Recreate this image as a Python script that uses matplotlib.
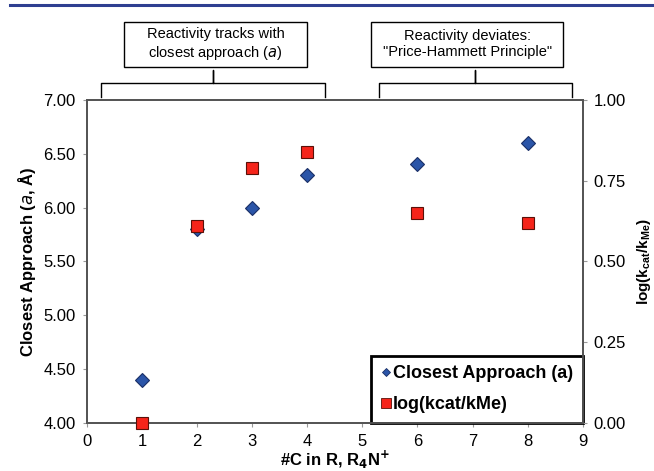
import numpy as np
import matplotlib
matplotlib.use("Agg")
import matplotlib.pyplot as plt
from matplotlib.lines import Line2D
from matplotlib.patches import Rectangle

plt.rcParams["font.family"] = ["Liberation Sans", "DejaVu Sans"]

# data
n_carbons = [1, 2, 3, 4, 6, 8]
closest_approach = [4.40, 5.80, 6.00, 6.30, 6.40, 6.60]
log_rate = [0.00, 0.61, 0.79, 0.84, 0.65, 0.62]

x_ticks = list(range(0, 10))
left_ticks = [4.0, 4.5, 5.0, 5.5, 6.0, 6.5, 7.0]
right_ticks = [0.0, 0.25, 0.5, 0.75, 1.0]

fig = plt.figure(figsize=(6.54, 4.71), dpi=100)
ax = fig.add_axes([0.133, 0.102, 0.758, 0.686])
ax2 = ax.twinx()

ax.plot(n_carbons, closest_approach, linestyle="none", marker="D",
        markersize=7.6, color="#2b55a8", markeredgecolor="#1a2f66",
        markeredgewidth=0.8, clip_on=False, zorder=3)
ax2.plot(n_carbons, log_rate, linestyle="none", marker="s",
         markersize=9, color="#f5241a", markeredgecolor="#5a1008",
         markeredgewidth=0.8, clip_on=False, zorder=3)

ax.set_xlim(0, 9)
ax.set_ylim(4.0, 7.0)
ax2.set_ylim(0.0, 1.0)
ax.set_xticks(x_ticks)
ax.set_yticks(left_ticks)
ax2.set_yticks(right_ticks)
ax.set_yticklabels([f"{v:.2f}" for v in left_ticks])
ax2.set_yticklabels([f"{v:.2f}" for v in right_ticks])

for a in (ax, ax2):
    a.tick_params(labelsize=12, length=3, width=0.8, color="#999999", pad=5)
    for s in a.spines.values():
        s.set_linewidth(1.3)
        s.set_color("#555555")

ax.set_xlabel("#C in R, R$_\\mathbf{4}$N$^\\mathbf{+}$", fontsize=12,
              fontweight="bold", labelpad=0)
ax.set_ylabel("Closest Approach ($\\mathbf{\\it{a}}$, Å)", fontsize=12,
              fontweight="bold", labelpad=4)
ax2.set_ylabel("log(k$_\\mathregular{cat}$/k$_\\mathregular{Me}$)", fontsize=11,
               fontweight="bold", labelpad=6)

handles = [
    Line2D([], [], linestyle="none", marker="D", markersize=4.5, color="#2b55a8",
           markeredgecolor="#1a2f66", markeredgewidth=0.6),
    Line2D([], [], linestyle="none", marker="s", markersize=6.5, color="#f5241a",
           markeredgecolor="#5a1008", markeredgewidth=0.6),
]
leg = ax.legend(handles, ["Closest Approach (a)", "log(kcat/kMe)"],
                loc="lower right", bbox_to_anchor=(1.0, 0.0), borderaxespad=0,
                fancybox=False, framealpha=1, edgecolor="black",
                prop={"size": 13, "weight": "bold"}, handletextpad=0.05,
                handlelength=0.6, borderpad=0.55, labelspacing=0.75)
leg.get_frame().set_linewidth(2)
leg.set_zorder(5)

# top rule
fig.add_artist(Line2D([0.015, 1.0], [0.989, 0.989], color="#2e3f91",
                      linewidth=2.2, transform=fig.transFigure))

# brackets and annotation boxes (axes x in data units, y in axes fraction)
trans = ax.get_xaxis_transform()
for x0, x1, bx0, bx1, label in [
    (0.25, 4.33, 0.67, 4.0, "Reactivity tracks with\nclosest approach ($\\it{a}$)"),
    (5.3, 8.8, 5.16, 8.65, "Reactivity deviates:\n\"Price-Hammett Principle\""),
]:
    xm = (x0 + x1) / 2
    ax.plot([x0, x0, xm, xm, xm, x1, x1],
            [1.009, 1.053, 1.053, 1.093, 1.053, 1.053, 1.009],
            color="black", linewidth=1.0, transform=trans, clip_on=False)
    ax.add_patch(Rectangle((bx0, 1.102), bx1 - bx0, 0.139, transform=trans,
                           facecolor="white", edgecolor="black", linewidth=1.0,
                           clip_on=False))
    ax.text((bx0 + bx1) / 2, 1.172, label, transform=trans, ha="center",
            va="center", fontsize=10.5, linespacing=1.2)

fig.savefig("out.png", dpi=100)
